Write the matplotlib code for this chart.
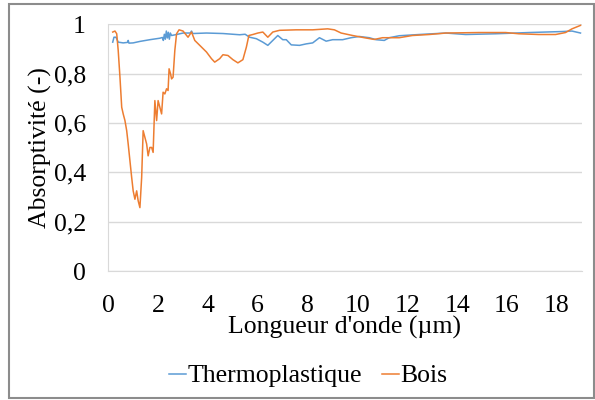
import numpy as np
import matplotlib.pyplot as plt
from matplotlib.patches import Rectangle

plt.rcParams['font.family'] = ['Liberation Serif', 'DejaVu Serif']

# Wavelength (um) and absorptivity
x_thermo = [0.19, 0.24, 0.32, 0.41, 0.61, 0.78, 0.81, 0.84, 1.01, 1.28, 1.68, 2.08,
            2.18, 2.22, 2.26, 2.3, 2.34, 2.38, 2.42, 2.46, 2.5, 2.55, 2.75, 3.01,
            3.3, 3.35, 3.4, 3.95, 4.61, 5.28, 5.5, 5.68, 5.95, 6.21, 6.41, 6.61,
            6.81, 7.01, 7.15, 7.35, 7.68, 7.95, 8.21, 8.48, 8.75, 9.01, 9.41, 9.75,
            10.08, 10.48, 10.75, 11.08, 11.28, 11.68, 12.48, 13.55, 14.35, 15.55,
            16.88, 18.21, 18.61, 18.95]
y_thermo = [0.928, 0.948, 0.948, 0.928, 0.925, 0.927, 0.935, 0.924, 0.925, 0.931, 0.938, 0.944,
            0.947, 0.935, 0.96, 0.94, 0.973, 0.945, 0.968, 0.94, 0.965, 0.955, 0.959, 0.965,
            0.965, 0.973, 0.963, 0.965, 0.963, 0.958, 0.96, 0.948, 0.942, 0.928, 0.915, 0.935,
            0.955, 0.938, 0.938, 0.917, 0.915, 0.921, 0.925, 0.946, 0.932, 0.938, 0.938, 0.946,
            0.951, 0.946, 0.938, 0.935, 0.946, 0.954, 0.959, 0.965, 0.959, 0.962,
            0.967, 0.971, 0.973, 0.965]

x_bois = [0.19, 0.28, 0.35, 0.41, 0.48, 0.55, 0.61, 0.68, 0.75, 0.81, 0.88, 0.95,
          1.01, 1.08, 1.15, 1.21, 1.28, 1.35, 1.41, 1.48, 1.55, 1.61, 1.68, 1.75,
          1.81, 1.88, 1.95, 2.01, 2.08, 2.15, 2.21, 2.28, 2.35, 2.41, 2.45, 2.51,
          2.55, 2.61, 2.68, 2.75, 2.85, 3.01, 3.21, 3.35, 3.48, 3.68, 3.95, 4.15,
          4.28, 4.48, 4.61, 4.81, 5.01, 5.21, 5.41, 5.55, 5.65, 5.81, 6.01, 6.21,
          6.41, 6.61, 6.88, 7.55, 8.21, 8.81, 9.08, 9.35, 9.81, 10.28, 10.68, 11.01,
          11.68, 12.21, 12.88, 13.55, 14.88, 15.95, 16.48, 17.28, 17.95, 18.35, 18.61, 18.95]
y_bois = [0.969, 0.973, 0.962, 0.894, 0.786, 0.664, 0.637, 0.61, 0.569, 0.515, 0.447, 0.379,
          0.325, 0.291, 0.325, 0.285, 0.257, 0.379, 0.569, 0.542, 0.515, 0.467, 0.501, 0.501,
          0.481, 0.691, 0.61, 0.691, 0.664, 0.637, 0.725, 0.718, 0.739, 0.732, 0.82, 0.799,
          0.779, 0.786, 0.894, 0.962, 0.978, 0.973, 0.948, 0.969, 0.935, 0.915, 0.888, 0.861,
          0.847, 0.861, 0.877, 0.874, 0.857, 0.844, 0.857, 0.908, 0.955, 0.959, 0.965, 0.969,
          0.948, 0.969, 0.976, 0.978, 0.978, 0.982, 0.978, 0.965, 0.955, 0.946, 0.939, 0.946,
          0.946, 0.955, 0.959, 0.965, 0.967, 0.967, 0.962, 0.959, 0.959, 0.967, 0.982, 0.996]

fs = 18.5

fig = plt.figure(figsize=(5.95, 4.0), dpi=100)
ax = fig.add_axes([0.1815, 0.3225, 0.7962, 0.6165])

ax.plot(x_thermo, y_thermo, color='#5B9BD5', lw=1.1, label='Thermoplastique')
ax.plot(x_bois, y_bois, color='#ED7D31', lw=1.1, label='Bois')

ax.set_xlim(0, 19)
ax.set_ylim(0, 1)
ax.set_xticks(np.arange(0, 19, 2))
ax.set_yticks(np.arange(0, 1.01, 0.2))
ax.set_yticklabels(['0', '0,2', '0,4', '0,6', '0,8', '1'])
ax.grid(axis='y', color='#d9d9d9', lw=1)
ax.set_axisbelow(True)
for s in ['top', 'right']:
    ax.spines[s].set_visible(False)
for s in ['left', 'bottom']:
    ax.spines[s].set_color('#d9d9d9')
ax.tick_params(length=0, labelsize=fs)
ax.tick_params(axis='x', pad=17)
ax.tick_params(axis='y', pad=16)

ax.set_xlabel("Longueur d'onde (µm)", fontsize=fs, va='center')
ax.xaxis.set_label_coords(0.5, -0.227)
ax.set_ylabel('Absorptivité (-)', fontsize=fs, va='center')
ax.yaxis.set_label_coords(-0.143, 0.5)

ax.legend(loc='center', bbox_to_anchor=(0.518, 0.06), bbox_transform=fig.transFigure,
          ncol=2, frameon=False, fontsize=fs, handlelength=0.66, handletextpad=0.05,
          columnspacing=0.8, borderpad=0)

fig.patches.append(Rectangle((9 / 595, 2 / 400), 1 - 9 / 595 - 1 / 595, 1 - 6 / 400,
                             transform=fig.transFigure, fill=False,
                             edgecolor='#8c8c8c', lw=1.5))

fig.savefig('out.png', dpi=100)
